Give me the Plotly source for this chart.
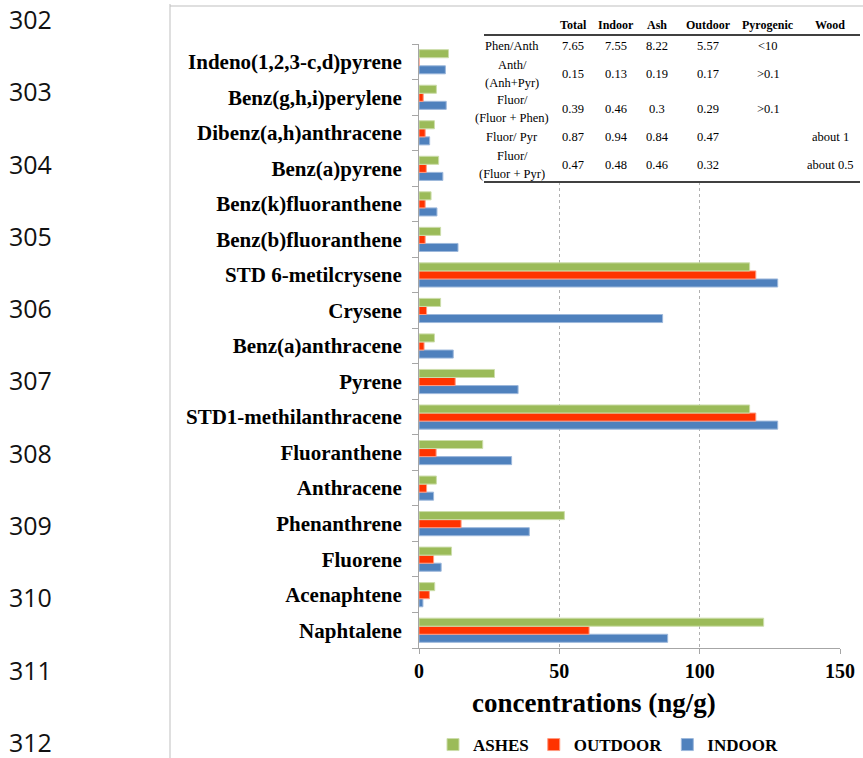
import plotly.graph_objects as go

# ---------------- data ----------------
categories = ["Naphtalene", "Acenaphtene", "Fluorene", "Phenanthrene", "Anthracene",
              "Fluoranthene", "STD1-methilanthracene", "Pyrene", "Benz(a)anthracene",
              "Crysene", "STD 6-metilcrysene", "Benz(b)fluoranthene", "Benz(k)fluoranthene",
              "Benz(a)pyrene", "Dibenz(a,h)anthracene", "Benz(g,h,i)perylene",
              "Indeno(1,2,3-c,d)pyrene"]
ashes = [122.8, 5.6, 11.6, 51.8, 6.2, 22.7, 117.8, 26.9, 5.5, 7.7, 117.8, 7.7, 4.3, 7.0, 5.5, 6.2, 10.5]
outdoor = [60.6, 3.7, 5.2, 15.0, 2.7, 6.1, 120.0, 12.9, 1.8, 2.7, 120.0, 2.2, 2.2, 2.6, 2.2, 1.5, 0.0]
indoor = [88.6, 1.4, 7.9, 39.3, 5.2, 33.0, 127.8, 35.3, 12.2, 86.8, 127.8, 13.9, 6.4, 8.5, 3.8, 9.7, 9.4]

x_ticks = [0, 50, 100, 150]

table_cols = ["Total", "Indoor", "Ash", "Outdoor", "Pyrogenic", "Wood"]
table_labels = [["Phen/Anth"], ["Anth/", "(Anh+Pyr)"], ["Fluor/", "(Fluor + Phen)"],
                ["Fluor/ Pyr"], ["Fluor/", "(Fluor + Pyr)"]]
t_total = ["7.65", "0.15", "0.39", "0.87", "0.47"]
t_indoor = ["7.55", "0.13", "0.46", "0.94", "0.48"]
t_ash = ["8.22", "0.19", "0.3", "0.84", "0.46"]
t_outdoor = ["5.57", "0.17", "0.29", "0.47", "0.32"]
t_pyrogenic = ["&lt;10", "&gt;0.1", "&gt;0.1", "", ""]
t_wood = ["", "", "", "about 1", "about 0.5"]

line_numbers = [str(n) for n in range(302, 313)]

# ---------------- layout geometry ----------------
W, H = 863, 758
L, R, T, B = 419, 23, 44, 110
PW, PH = W - L - R, H - T - B


def px(x):
    return (x - L) / PW


def py(y):
    return (H - B - y) / PH


GREEN, RED, BLUE = "#9BBB59", "#FF3300", "#4F81BD"
SERIF = "Liberation Serif"

fig = go.Figure()
fig.add_trace(go.Bar(y=categories, x=indoor, name="INDOOR", orientation="h",
                     marker=dict(color=BLUE, line=dict(color="#9DB8DB", width=1))))
fig.add_trace(go.Bar(y=categories, x=outdoor, name="OUTDOOR", orientation="h",
                     marker=dict(color=RED, line=dict(color="#FF9A80", width=1))))
fig.add_trace(go.Bar(y=categories, x=ashes, name="ASHES", orientation="h",
                     marker=dict(color=GREEN, line=dict(color="#CCDDAA", width=1))))

shapes = []
annotations = []

# outer frame lines
shapes.append(dict(type="line", xref="paper", yref="paper", x0=px(170), x1=px(170),
                   y0=py(4), y1=py(758), line=dict(color="#BFBFBF", width=1)))
shapes.append(dict(type="line", xref="paper", yref="paper", x0=px(170), x1=px(863),
                   y0=py(6), y1=py(6), line=dict(color="#BFBFBF", width=1)))

# table background + rules
shapes.append(dict(type="rect", xref="paper", yref="paper", x0=px(482), x1=px(862),
                   y0=py(12), y1=py(183), fillcolor="white", line=dict(width=0), layer="above"))
for yy in (35, 182):
    shapes.append(dict(type="line", xref="paper", yref="paper", x0=px(484), x1=px(860),
                       y0=py(yy), y1=py(yy), line=dict(color="black", width=1.6), layer="above"))

col_x = [573, 616, 657, 708, 768, 830]
row_y = [46, 74, 109, 137, 165]
for cx, name in zip(col_x, table_cols):
    annotations.append(dict(x=px(cx), y=py(25), xref="paper", yref="paper", text="<b>%s</b>" % name,
                            showarrow=False, font=dict(family=SERIF, size=12, color="black"),
                            xanchor="center", yanchor="middle"))
cols = [t_total, t_indoor, t_ash, t_outdoor, t_pyrogenic, t_wood]
for i, ry in enumerate(row_y):
    lines = table_labels[i]
    if len(lines) == 1:
        ys = [ry]
    else:
        ys = [ry - 8.8, ry + 8.8]
    for ln, yy in zip(lines, ys):
        annotations.append(dict(x=px(512), y=py(yy), xref="paper", yref="paper", text=ln,
                                showarrow=False, font=dict(family=SERIF, size=12.5, color="black"),
                                xanchor="center", yanchor="middle"))
    for cx, col in zip(col_x, cols):
        if col[i]:
            annotations.append(dict(x=px(cx), y=py(ry), xref="paper", yref="paper", text=col[i],
                                    showarrow=False, font=dict(family=SERIF, size=12.5, color="black"),
                                    xanchor="center", yanchor="middle"))

# line numbers at left
for i, n in enumerate(line_numbers):
    annotations.append(dict(x=px(30), y=py(19 + 72.3 * i), xref="paper", yref="paper", text=n,
                            showarrow=False, font=dict(family="Open Sans", size=25, color="#111"),
                            xanchor="center", yanchor="middle"))

# x axis title
annotations.append(dict(x=px(594), y=py(703), xref="paper", yref="paper",
                        text="<b>concentrations (ng/g)</b>", showarrow=False,
                        font=dict(family=SERIF, size=27, color="black"),
                        xanchor="center", yanchor="middle"))

fig.update_layout(
    width=W, height=H,
    margin=dict(l=L, r=R, t=T, b=B, autoexpand=False),
    paper_bgcolor="white", plot_bgcolor="white",
    barmode="group", bargap=0.32, bargroupgap=0,
    showlegend=True,
    legend=dict(orientation="h", traceorder="reversed", x=px(608), xanchor="center",
                y=py(745), yanchor="middle",
                font=dict(family=SERIF, size=17, color="black", weight="bold"),
                itemwidth=30, bgcolor="rgba(0,0,0,0)"),
    shapes=shapes, annotations=annotations,
    font=dict(family=SERIF, color="black"),
)
fig.update_xaxes(range=[0, 150], tickvals=x_ticks, ticktext=["<b>%d</b>" % v for v in x_ticks],
                 tickfont=dict(family=SERIF, size=20, color="black"),
                 showgrid=True, gridcolor="#B0B0B0", griddash="dot", gridwidth=1,
                 showline=True, linecolor="#A6A6A6", linewidth=1,
                 ticks="outside", ticklen=5, tickcolor="#A6A6A6", zeroline=False,
                 fixedrange=True)
fig.update_yaxes(type="category", categoryorder="array", categoryarray=categories,
                 tickvals=categories, ticktext=["<b>%s</b>" % c for c in categories],
                 tickfont=dict(family=SERIF, size=21, color="black"),
                 showline=True, linecolor="#A6A6A6", linewidth=1,
                 ticks="outside", ticklen=6, tickcolor="#A6A6A6", tickson="boundaries",
                 ticklabelstandoff=12, showgrid=False, fixedrange=True)

fig.write_html("out.html")
